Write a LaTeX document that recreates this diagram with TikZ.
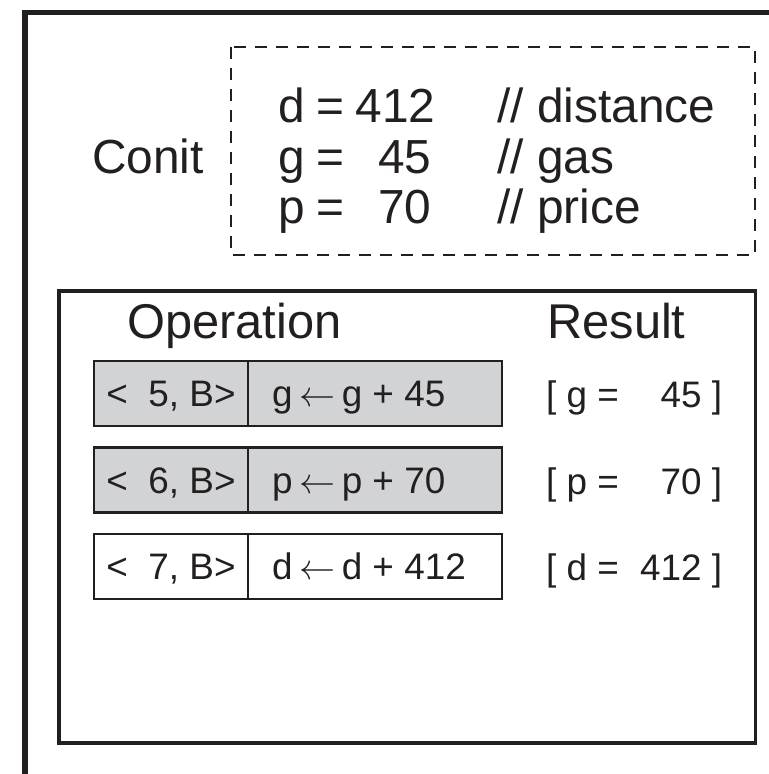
\documentclass[tikz,border=0pt]{standalone}
\usepackage{fontspec}
\usepackage{graphicx}
\setmainfont{Liberation Sans}
\definecolor{ink}{RGB}{35,31,32}
\definecolor{shade}{RGB}{209,211,212}
% thin left arrow used in the assignments
\newcommand{\assignarrow}{\hspace{0.18em}\resizebox{36bp}{!}{$\leftarrow$}\hspace{0.18em}}
% "x =" with slightly narrow spaces, used in the value table
\newcommand{\tighteq}[1]{#1\hspace{0.24em}=\hspace{0.24em}}
\begin{document}
\begin{tikzpicture}[x=1bp,y=-1bp,
  big/.style={font=\fontsize{48}{57}\selectfont, inner sep=0pt, text=ink},
  head/.style={font=\fontsize{49}{58}\selectfont, inner sep=0pt, text=ink},
  small/.style={font=\fontsize{37}{44}\selectfont, text=ink},
  tagcell/.style={small, draw=ink, line width=2.8bp, anchor=north west, outer sep=0pt,
    minimum width=154bp, minimum height=65bp, inner sep=0pt,
    text height=26bp, text depth=0pt},
  opcell/.style={small, draw=ink, line width=2.8bp, anchor=north west, outer sep=0pt,
    minimum width=254bp, minimum height=65bp, inner sep=0pt,
    text height=26bp, text depth=0pt},
  result/.style={small, anchor=base west, inner sep=0pt},
  greyed/.style={fill=shade},
  dashbox/.style={draw=ink, line width=2.5bp, dash pattern=on 12bp off 9bp},
  frame/.style={draw=ink, line width=3.2bp}]
\useasboundingbox (0,0) rectangle (769,774);
\fill[white] (0,0) rectangle (769,774);

% outer frame (only its top-left part is visible)
\draw[ink, line width=5.5bp] (25,774) -- (25,12.5) -- (769,12.5);

% state of the conit
\draw[dashbox] (231,47) rectangle (755,255);
\node[big, anchor=base west] (conit) at (92,173) {Conit};
\node[big, anchor=base west] (vd) at (278,122)
  {\makebox[153bp][l]{\tighteq{d}\hfill412}\hspace{66bp}// distance};
\node[big, anchor=base west] (vg) at (278,173)
  {\makebox[153bp][l]{\tighteq{g}\hfill45}\hspace{66bp}// gas};
\node[big, anchor=base west] (vp) at (278,223)
  {\makebox[153bp][l]{\tighteq{p}\hfill70}\hspace{66bp}// price};

% operation log
\draw[frame] (59,291) rectangle (755.5,743);
\node[head, anchor=base west] (ophead) at (127,338) {Operation};
\node[head, anchor=base west] (reshead) at (547,338) {Result};

\node[tagcell, greyed] (t5) at (94,361) {<~~5, B>};
\node[opcell, greyed] (o5) at (t5.north east)
  {\makebox[206bp][l]{g\assignarrow g + 45}};
\node[result] (r5) at (546,407) {\makebox[176bp][l]{[ g =\ \hfill45 ]}};

\node[tagcell, greyed] (t6) at (94,447.5) {<~~6, B>};
\node[opcell, greyed] (o6) at (t6.north east)
  {\makebox[206bp][l]{p\assignarrow p + 70}};
\node[result] (r6) at (546,494) {\makebox[176bp][l]{[ p =\ \hfill70 ]}};

\node[tagcell] (t7) at (94,534) {<~~7, B>};
\node[opcell] (o7) at (t7.north east)
  {\makebox[206bp][l]{d\assignarrow d + 412}};
\node[result] (r7) at (546,580) {\makebox[176bp][l]{[ d =\ \hfill412 ]}};
\end{tikzpicture}
\end{document}
